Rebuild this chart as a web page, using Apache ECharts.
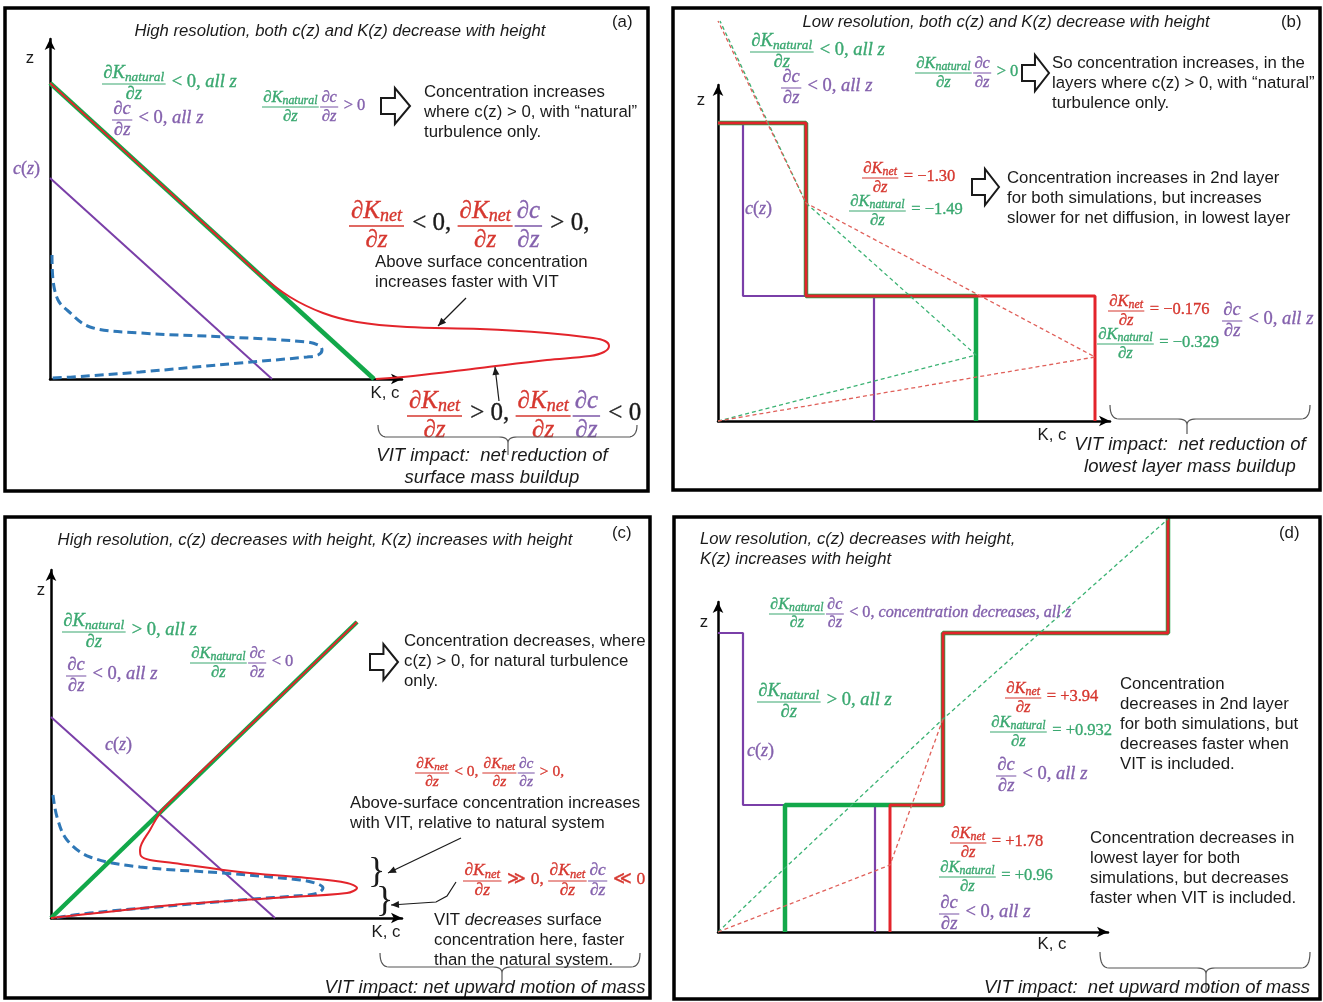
<!DOCTYPE html>
<html>
<head>
<meta charset="utf-8">
<script src="https://cdn.jsdelivr.net/npm/echarts@6/dist/echarts.min.js"></script>
<style>html,body{margin:0;background:#fff}#chart{width:1323px;height:1002px}</style>
</head>
<body>
<div id="chart"></div>
<script>
// ---------------- profile data (schematic units: x = K or c, y = height z) ----------------
// (a) high resolution, c(z) and K(z) both decrease with height
const aKnatural = [[0, 14.8], [16.2, 0]];
const aConc = [[0, 10.05], [11.1, 0]];
const aKnet = [[0, 14.8], [4.6, 10.6], [9.15, 6.45], [10.4, 5.3], [12.0, 4.1], [13.65, 3.3], [15.35, 2.85], [17.85, 2.6], [21.5, 2.5], [24.85, 2.3], [27.15, 2.05], [27.75, 1.9], [27.95, 1.65], [27.7, 1.35], [27.0, 1.15], [24.85, 0.95], [21.5, 0.55], [18.15, 0.15], [16.3, 0]];
const aConcVIT = [[0.1, 6.2], [0.15, 4.95], [0.4, 3.95], [0.85, 3.45], [2.0, 2.6], [4.5, 2.3], [8.85, 2.1], [12.85, 1.85], [13.5, 1.65], [13.6, 1.45], [13.4, 1.2], [12.85, 1.1], [9.5, 0.8], [4.5, 0.35], [1.15, 0.1], [0, 0.05]];

// (b) low resolution, layered versions of (a)
const bKnatural = [[0, 14.9], [4.4, 14.9], [4.4, 6.25], [12.9, 6.25], [12.9, 0]];
const bKnet = [[0, 14.9], [4.4, 14.9], [4.4, 6.25], [18.85, 6.25], [18.85, 0]];
const bConc = [[0, 14.9], [1.25, 14.9], [1.25, 6.25], [7.8, 6.25], [7.8, 0]];
const bKnaturalFit = [[0, 0], [12.9, 3.3], [4.4, 10.9], [0.1, 20]];
const bKnetFit = [[0, 0], [18.85, 3.2], [4.4, 10.9], [0, 20]];

// (c) high resolution, c(z) decreases, K(z) increases with height
const cKnatural = [[0, 0], [15.3, 14.8]];
const cConc = [[0, 10.05], [11.2, 0]];
const cKnet = [[15.3, 14.8], [10.5, 10.15], [5.65, 5.5], [4.95, 4.4], [4.45, 3.4], [4.5, 3.1], [4.95, 2.9], [6.1, 2.75], [9.45, 2.3], [12.8, 2.0], [14.8, 1.75], [15.3, 1.5], [14.8, 1.25], [11.1, 1.0], [6.1, 0.65], [2.8, 0.3], [0, 0]];
const cConcVIT = [[0.1, 6.15], [0.3, 5.05], [0.8, 3.9], [1.95, 3.05], [4.45, 2.55], [8.6, 2.25], [12.45, 1.9], [13.35, 1.7], [13.6, 1.5], [13.35, 1.25], [12.8, 1.15], [9.45, 0.9], [5.3, 0.55], [1.95, 0.25], [0.1, 0]];

// (d) low resolution, layered versions of (c)
const dKnatural = [[3.35, 0], [3.35, 6.35], [11.25, 6.35], [11.25, 14.95], [22.5, 14.95], [22.5, 20.75]];
const dKnet = [[8.6, 0], [8.6, 6.35], [11.25, 6.35], [11.25, 14.95], [22.5, 14.95], [22.5, 20.75]];
const dConc = [[0, 14.95], [1.25, 14.95], [1.25, 6.35], [7.85, 6.35], [7.85, 0]];
const dKnaturalFit = [[0, 0], [3.35, 3.2], [11.25, 10.65], [22.5, 20.65]];
const dKnetFit = [[0, 0], [8.6, 3.35], [11.25, 10.65]];

// drawn axis extents per panel, and the wider plotting extents behind them
const axisMax = [[17.6, 17], [19.6, 16.8], [17.55, 17.4], [19.5, 16.5]];
const plotMax = [[30, 17], [19.6, 21], [17.55, 17.4], [23, 21]];

// ---------------- styling ----------------
const GREEN = '#12a84a', RED = '#e3242b', PURPLE = '#7a3fa8', BLUE = '#2f78b7';
const GT = '#3aa870', RT = '#d6372f', PT = '#8461ad', BK = '#1a1a1a';
const GDASH = '#3bb273', RDASH = '#e0605a';
const SANS = '"Liberation Sans", Arial, sans-serif';
const SERIF = '"Liberation Serif", "Times New Roman", serif';
const UNIT = 20; // pixels per schematic unit
const origins = [
  { left: 50, bottom: 379 },
  { left: 718, bottom: 421 },
  { left: 51, bottom: 918 },
  { left: 718, bottom: 932 }
];

function sans(size, it) { return (it ? 'italic ' : '') + size + 'px ' + SANS; }
function mfont(size, it) { return (it ? 'italic ' : '') + size + 'px ' + SERIF; }

const G = [];
function label(text, x, y, font, align, fill) {
  G.push({ type: 'text', x: x, y: y, z: 20, style: { text: text, font: font, fill: fill || BK, align: align || 'left', verticalAlign: 'middle' } });
}
function lines(arr, x, y0, dy, font, align) {
  arr.forEach(function (t, i) { label(t, x, y0 + i * dy, font, align); });
}

// --- small math layout: fractions, ∂K with subscripts ---
const mctx = document.createElement('canvas').getContext('2d');
function mw(t, size, it) { mctx.font = mfont(size, it); return mctx.measureText(t).width; }
const MID = 0.34;
function mtext(t, x, base, size, col, it, out) {
  out.push({ type: 'text', x: x, y: base - MID * size, z: 20, style: { text: t, font: mfont(size, it), fill: col, stroke: col, lineWidth: 0.35, align: 'left', verticalAlign: 'middle' } });
}
function layRow(parts, x, base, S, out) {
  let cx = x;
  parts.forEach(function (p) {
    if (p[0] === 'r') {
      mtext(p[1], cx, base, S, p[2], p[3], out);
      cx += mw(p[1], S, p[3]);
    } else if (p[0] === 'd') {
      const m = '\u2202' + p[1];
      mtext(m, cx, base, S, p[3], true, out);
      cx += mw(m, S, true);
      const ss = S * 0.72;
      mtext(p[2], cx, base + S * 0.12, ss, p[3], true, out);
      cx += mw(p[2], ss, true);
    } else if (p[0] === 'f') {
      const nw = layRow(p[1], 0, 0, S, []), dw = layRow(p[2], 0, 0, S, []);
      const w = Math.max(nw, dw) + S * 0.16;
      const A = base - 0.25 * S;
      layRow(p[1], cx + (w - nw) / 2, A - 0.25 * S, S, out);
      layRow(p[2], cx + (w - dw) / 2, A + 0.9 * S, S, out);
      out.push({ type: 'line', z: 20, shape: { x1: cx, y1: A, x2: cx + w, y2: A }, style: { stroke: p[3], lineWidth: S > 20 ? 1.6 : 1.1 } });
      cx += w + S * 0.08;
    }
  });
  return cx - x;
}
function formula(parts, x, A, S) { layRow(parts, x, A + 0.25 * S, S, G); }
const r = function (t, c, it) { return ['r', t, c, !!it]; };
const dK = function (sub, c) { return ['d', 'K', sub, c]; };
const dz = function (c) { return r('\u2202z', c, true); };
const KN = ['f', [dK('natural', GT)], [dz(GT)], GT];
const KT = ['f', [dK('net', RT)], [dz(RT)], RT];
const CZ = ['f', [r('\u2202c', PT, true)], [dz(PT)], PT];
const allz = function (op, c) { return [r(op, c), r('all z', c, true)]; };
const cz = [r('c', PT, true), r('(', PT), r('z', PT, true), r(')', PT)];

// --- shapes ---
function arrow(pts, col) {
  G.push({ type: 'polyline', z: 20, shape: { points: pts }, style: { stroke: col, lineWidth: 1.2, fill: 'none' } });
  const p1 = pts[pts.length - 2], p2 = pts[pts.length - 1];
  const ang = Math.atan2(p2[1] - p1[1], p2[0] - p1[0]), L = 8, W = 3.5;
  const bx = p2[0] - L * Math.cos(ang), by = p2[1] - L * Math.sin(ang);
  G.push({ type: 'polygon', z: 20, shape: { points: [p2, [bx - W * Math.sin(ang), by + W * Math.cos(ang)], [bx + W * Math.sin(ang), by - W * Math.cos(ang)]] }, style: { fill: col } });
}
function blockArrow(x0, yc, w, h) {
  const s = h * 0.22, mx = x0 + w * 0.48;
  G.push({ type: 'polygon', z: 20, shape: { points: [[x0, yc - s], [mx, yc - s], [mx, yc - h / 2], [x0 + w, yc], [mx, yc + h / 2], [mx, yc + s], [x0, yc + s]] }, style: { fill: '#fff', stroke: BK, lineWidth: 2 } });
}
function brace(x1, x2, yTop, yLine, tipX, tipY) {
  const rr = 9, pts = [];
  function q(p0, p1, p2) {
    for (let i = 0; i <= 8; i++) {
      const t = i / 8;
      pts.push([(1 - t) * (1 - t) * p0[0] + 2 * t * (1 - t) * p1[0] + t * t * p2[0], (1 - t) * (1 - t) * p0[1] + 2 * t * (1 - t) * p1[1] + t * t * p2[1]]);
    }
  }
  q([x1, yTop], [x1, yLine], [x1 + rr, yLine]);
  q([tipX - rr, yLine], [tipX, yLine], [tipX, yLine + 6]);
  pts.push([tipX, tipY]);
  q([tipX, yLine + 6], [tipX, yLine], [tipX + rr, yLine]);
  q([x2 - rr, yLine], [x2, yLine], [x2, yTop]);
  G.push({ type: 'polyline', z: 20, shape: { points: pts }, style: { stroke: '#555', lineWidth: 1.2, fill: 'none' } });
}
function frame(x, y, w, h) {
  G.push({ type: 'rect', z: 30, shape: { x: x, y: y, width: w, height: h }, style: { fill: 'none', stroke: '#000', lineWidth: 3.5 } });
}

// ---------------- panel frames ----------------
frame(5, 8, 643, 483);
frame(673, 8, 647, 482);
frame(5, 517, 645, 481);
frame(674, 517, 646, 482);

// ---------------- panel (a) ----------------
label('High resolution, both c(z) and K(z) decrease with height', 340, 31, sans(16.7, true), 'center');
label('(a)', 612, 22, sans(16.8));
label('z', 30, 58, sans(16.8), 'center');
label('K, c', 385, 393, sans(16.8), 'center');
formula([KN].concat(allz(' < 0, ', GT)), 102, 84, 18.5);
formula([CZ].concat(allz(' < 0, ', PT)), 112, 120, 18.5);
formula([KN, CZ, r(' > 0', PT)], 262, 107, 16.5);
blockArrow(381, 106, 29, 36);
lines(['Concentration increases', 'where c(z) > 0, with \u201cnatural\u201d', 'turbulence only.'], 424, 92, 20, sans(16.8));
formula(cz, 13, 171, 18);
formula([KT, r(' < 0, ', BK), KT, CZ, r(' > 0,', BK)], 349, 226, 25);
lines(['Above surface concentration', 'increases faster with VIT'], 375, 262, 20, sans(16.8));
arrow([[466, 298], [438, 326]], BK);
arrow([[499, 401], [495, 367]], BK);
formula([KT, r(' > 0, ', BK), KT, CZ, r(' < 0', BK)], 407, 416, 25);
brace(378, 637, 425, 437, 508, 455);
lines(['VIT impact:  net reduction of', 'surface mass buildup'], 492, 456, 22, sans(18.5, true), 'center');

// ---------------- panel (b) ----------------
label('Low resolution, both c(z) and K(z) decrease with height', 1006, 22, sans(16.7, true), 'center');
label('(b)', 1281, 22, sans(16.8));
label('z', 701, 100, sans(16.8), 'center');
label('K, c', 1052, 435, sans(16.8), 'center');
formula([KN].concat(allz(' < 0, ', GT)), 750, 52, 18.5);
formula([CZ].concat(allz(' < 0, ', PT)), 781, 88, 18.5);
formula([KN, CZ, r(' > 0', GT)], 915, 73, 16.5);
blockArrow(1022, 73, 27, 36);
lines(['So concentration increases, in the', 'layers where c(z) > 0, with \u201cnatural\u201d', 'turbulence only.'], 1052, 63, 20, sans(16.8));
formula([KT, r(' = \u22121.30', RT)], 862, 178, 16.5);
formula([KN, r(' = \u22121.49', GT)], 849, 211, 16.5);
blockArrow(972, 187, 27, 36);
lines(['Concentration increases in 2nd layer', 'for both simulations, but increases', 'slower for net diffusion, in lowest layer'], 1007, 178, 20, sans(16.8));
formula(cz, 745, 211, 18);
formula([KT, r(' = \u22120.176', RT)], 1108, 311, 16.5);
formula([CZ].concat(allz(' < 0, ', PT)), 1222, 321, 18.5);
formula([KN, r(' = \u22120.329', GT)], 1097, 344, 16.5);
brace(1110, 1310, 405, 419, 1187, 434);
lines(['VIT impact:  net reduction of', 'lowest layer mass buildup'], 1190, 445, 22, sans(18.5, true), 'center');

// ---------------- panel (c) ----------------
label('High resolution, c(z) decreases with height, K(z) increases with height', 315, 540, sans(16.7, true), 'center');
label('(c)', 612, 533, sans(16.8));
label('z', 41, 590, sans(16.8), 'center');
label('K, c', 386, 932, sans(16.8), 'center');
formula([KN].concat(allz(' > 0, ', GT)), 62, 632, 18.5);
formula([CZ].concat(allz(' < 0, ', PT)), 66, 676, 18.5);
formula([KN, CZ, r(' < 0', PT)], 190, 663, 16.5);
blockArrow(370, 662, 28, 36);
lines(['Concentration decreases, where', 'c(z) > 0, for natural turbulence', 'only.'], 404, 641, 20, sans(16.8));
formula(cz, 105, 747, 18);
formula([KT, r(' < 0, ', RT), KT, CZ, r(' > 0,', RT)], 415, 773, 15.5);
lines(['Above-surface concentration increases', 'with VIT, relative to natural system'], 350, 803, 20, sans(16.8));
arrow([[461, 838], [388, 873]], BK);
label('}', 368, 873, '36px ' + SERIF);
label('}', 376, 902, '36px ' + SERIF);
formula([KT, r(' \u226B 0, ', RT), KT, CZ, r(' \u226A 0', RT)], 463, 881, 17.5);
arrow([[456, 882], [447, 896], [436, 902], [391, 905]], BK);
G.push({ type: 'text', x: 434, y: 920, z: 20, style: { text: '{n|VIT }{i|decreases}{n| surface}', fill: BK, align: 'left', verticalAlign: 'middle', rich: { n: { font: sans(16.8), fill: BK }, i: { font: sans(16.8, true), fill: BK } } } });
lines(['concentration here, faster', 'than the natural system.'], 434, 940, 20, sans(16.8));
brace(380, 640, 953, 967, 502, 986);
label('VIT impact: net upward motion of mass', 485, 988, sans(18.5, true), 'center');

// ---------------- panel (d) ----------------
lines(['Low resolution, c(z) decreases with height,', 'K(z) increases with height'], 700, 539, 20, sans(16.7, true));
label('(d)', 1279, 533, sans(16.8));
label('z', 704, 622, sans(16.8), 'center');
label('K, c', 1052, 944, sans(16.8), 'center');
formula([KN, CZ, r(' < 0, ', PT), r('concentration decreases, all z', PT, true)], 769, 614, 16.2);
formula([KN].concat(allz(' > 0, ', GT)), 757, 702, 18.5);
formula(cz, 747, 753, 18);
formula([KT, r(' = +3.94', RT)], 1005, 698, 16.5);
formula([KN, r(' = +0.932', GT)], 990, 732, 16.5);
formula([CZ].concat(allz(' < 0, ', PT)), 996, 776, 18.5);
lines(['Concentration', 'decreases in 2nd layer', 'for both simulations, but', 'decreases faster when', 'VIT is included.'], 1120, 684, 20, sans(16.8));
formula([KT, r(' = +1.78', RT)], 950, 843, 16.5);
formula([KN, r(' = +0.96', GT)], 939, 877, 16.5);
formula([CZ].concat(allz(' < 0, ', PT)), 939, 914, 18.5);
lines(['Concentration decreases in', 'lowest layer for both', 'simulations, but decreases', 'faster when VIT is included.'], 1090, 838, 20, sans(16.8));
brace(1100, 1310, 952, 968, 1206, 992);
label('VIT impact:  net upward motion of mass', 1147, 988, sans(18.5, true), 'center');

// ---------------- coordinate systems ----------------
// grids 0-3 carry the drawn z / K,c arrows; grids 4-7 share each origin and
// scale but span the full profile range, so curves may run past the arrows
const gridOpt = [], xAxes = [], yAxes = [];
function addGrid(i, ext, visible) {
  const o = origins[i], w = ext[0] * UNIT, h = ext[1] * UNIT;
  const gi = gridOpt.length;
  gridOpt.push({ left: o.left, top: o.bottom - h, width: w, height: h, containLabel: false });
  const axisLine = { show: visible, onZero: true, symbol: ['none', 'arrow'], symbolSize: [8, 11], lineStyle: { color: '#000', width: 2.5 } };
  const common = { gridIndex: gi, type: 'value', min: 0, show: visible, axisLine: axisLine, axisTick: { show: false }, axisLabel: { show: false }, splitLine: { show: false } };
  xAxes.push(Object.assign({ max: ext[0] }, common));
  yAxes.push(Object.assign({ max: ext[1] }, common));
}
for (let i = 0; i < 4; i++) addGrid(i, axisMax[i], true);
for (let i = 0; i < 4; i++) addGrid(i, plotMax[i], false);

function ser(data, panel, color, width, extra) {
  return Object.assign({
    type: 'line', xAxisIndex: panel + 4, yAxisIndex: panel + 4, data: data, symbol: 'none', showSymbol: false,
    clip: false, silent: true, animation: false, z: 3, lineStyle: { color: color, width: width }
  }, extra || {});
}
const dashedBlue = { smooth: 0.35, lineStyle: { color: BLUE, width: 3, type: [9, 5] } };
const fine = function (c) { return { lineStyle: { color: c, width: 1.3, type: [4, 3] } }; };

const series = [
  // (a)
  ser(aConc, 0, PURPLE, 2),
  ser(aConcVIT, 0, BLUE, 3, dashedBlue),
  ser(aKnatural, 0, GREEN, 4.5),
  ser(aKnet, 0, RED, 2, { smooth: 0.35 }),
  // (b)
  ser(bConc, 1, PURPLE, 2.2),
  ser(bKnatural, 1, GREEN, 4.5),
  ser(bKnet, 1, RED, 3),
  ser(bKnaturalFit, 1, GDASH, 1.3, fine(GDASH)),
  ser(bKnetFit, 1, RDASH, 1.3, fine(RDASH)),
  // (c)
  ser(cConc, 2, PURPLE, 2),
  ser(cConcVIT, 2, BLUE, 3, dashedBlue),
  ser(cKnatural, 2, GREEN, 4.5),
  ser(cKnet, 2, RED, 2, { smooth: 0.35 }),
  // (d)
  ser(dConc, 3, PURPLE, 2.2),
  ser(dKnatural, 3, GREEN, 4.5),
  ser(dKnet, 3, RED, 3),
  ser(dKnaturalFit, 3, GDASH, 1.3, fine(GDASH)),
  ser(dKnetFit, 3, RDASH, 1.3, fine(RDASH))
];

const chart = echarts.init(document.getElementById('chart'), null, { renderer: 'canvas' });
chart.setOption({
  backgroundColor: '#fff',
  animation: false,
  grid: gridOpt,
  xAxis: xAxes,
  yAxis: yAxes,
  series: series,
  graphic: { elements: G }
});
</script>
</body>
</html>
